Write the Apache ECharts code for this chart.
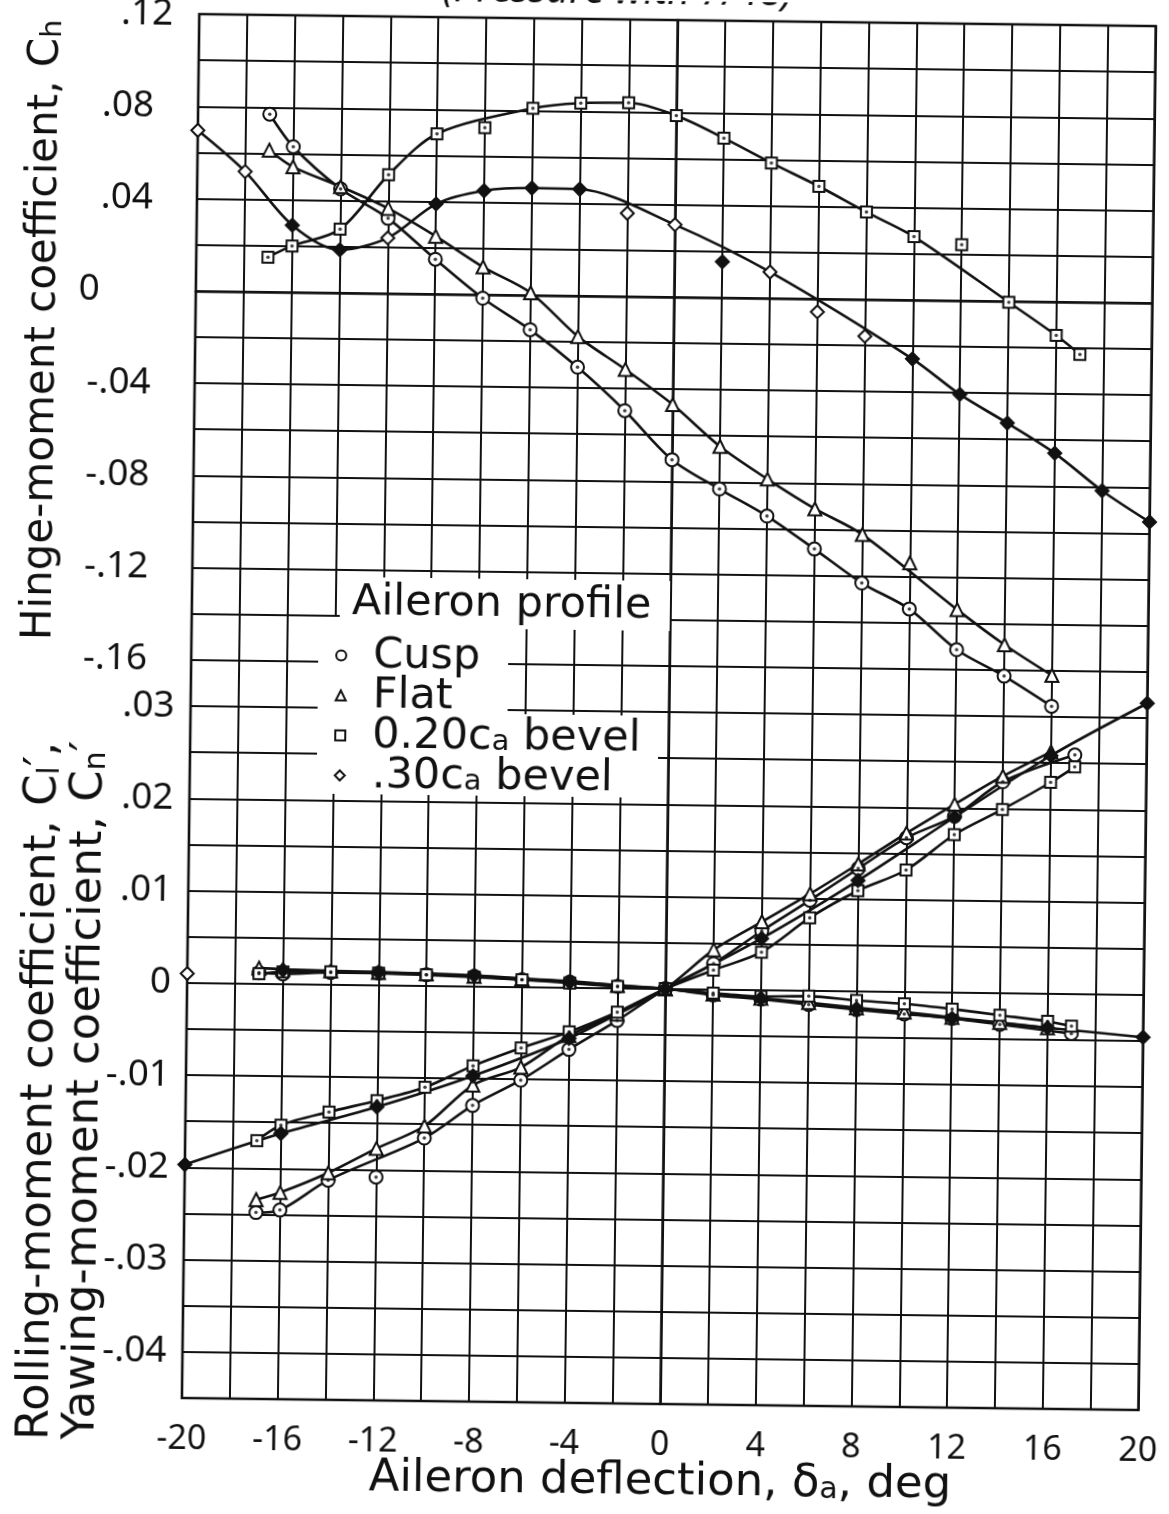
<!DOCTYPE html>
<html>
<head>
<meta charset="utf-8">
<script src="https://cdn.jsdelivr.net/npm/echarts@6/dist/echarts.min.js"></script>
<style>
  html, body { margin: 0; padding: 0; background: #fff; overflow: hidden; }
  #chart { width: 1169px; height: 1514px; transform: rotate(0.72deg); transform-origin: 50% 50%; }
</style>
</head>
<body>
<div id="chart"></div>
<script>
// ---- Aileron deflection (deg) and measured coefficients ----

// Hinge-moment coefficient, Ch
const cuspHingeX = [-17, -16, -14, -12, -10, -8, -6, -4, -2, 0, 2, 4, 6, 8, 10, 12, 14, 16];
const cuspHinge  = [0.077, 0.063, 0.045, 0.0325, 0.015, -0.0016, -0.015, -0.031, -0.0496, -0.0706, -0.083, -0.0945, -0.1085, -0.123, -0.134, -0.1514, -0.1626, -0.1754];

const flatHingeX = [-17, -16, -14, -12, -10, -8, -6, -4, -2, 0, 2, 4, 6, 8, 10, 12, 14, 16];
const flatHinge  = [0.0614, 0.0543, 0.046, 0.0368, 0.025, 0.0119, 0.001, -0.0177, -0.0317, -0.0467, -0.0646, -0.0785, -0.0911, -0.102, -0.114, -0.134, -0.149, -0.162];
const flatHingeOffCurve = [10];

const bevel20HingeX = [-17, -16, -14, -12, -10, -8, -6, -4, -2, 0, 2, 4, 6, 8, 10, 12, 14, 16, 17];
const bevel20Hinge  = [0.015, 0.020, 0.0275, 0.0514, 0.0694, 0.0723, 0.081, 0.0835, 0.0839, 0.0786, 0.0691, 0.0586, 0.0487, 0.0378, 0.0274, 0.0242, -0.0005, -0.0146, -0.0227];
const bevel20HingeOffCurve = [-8, 12];

const bevel30HingeX = [-20, -18, -16, -14, -12, -10, -8, -6, -4, -2, 0, 2, 4, 6, 8, 10, 12, 14, 16, 18, 20];
const bevel30Hinge  = [0.0696, 0.052, 0.029, 0.0186, 0.024, 0.039, 0.045, 0.0464, 0.0462, 0.036, 0.0313, 0.0155, 0.0113, -0.0057, -0.016, -0.0256, -0.0407, -0.0529, -0.0657, -0.0817, -0.095];
const bevel30HingeOffCurve = [-2, 2, 6, 8];
const bevel30HingeOpenX = [-20, -18, -12, -2, 0, 4, 6, 8];

// Rolling-moment coefficient, C'l
const cuspRollX = [-17, -16, -14, -12, -10, -8, -6, -4, -2, 0, 2, 4, 6, 8, 10, 12, 14, 17];
const cuspRoll  = [-0.0248, -0.0245, -0.0212, -0.0208, -0.0165, -0.0129, -0.0101, -0.0067, -0.0035, 0, 0.0028, 0.0064, 0.0098, 0.0133, 0.0167, 0.0191, 0.0229, 0.0259];
const cuspRollOffCurve = [-12];

const flatRollX = [-17, -16, -14, -12, -10, -8, -6, -4, -2, 0, 2, 4, 6, 8, 10, 12, 14, 16];
const flatRoll  = [-0.0234, -0.0226, -0.0204, -0.0177, -0.0152, -0.0107, -0.0087, -0.0052, -0.0028, 0, 0.0043, 0.0074, 0.0105, 0.0138, 0.0172, 0.0204, 0.0235, 0.0262];

const bevel20RollX = [-17, -16, -14, -12, -10, -8, -6, -4, -2, 0, 2, 4, 6, 8, 10, 12, 14, 16, 17];
const bevel20Roll  = [-0.017, -0.0153, -0.0138, -0.0125, -0.011, -0.0086, -0.0066, -0.0048, -0.0026, 0, 0.0021, 0.0041, 0.0079, 0.0109, 0.0132, 0.0171, 0.0199, 0.0229, 0.0246];

const bevel30RollX = [-20, -16, -12, -8, -4, 0, 4, 8, 12, 16, 20];
const bevel30Roll  = [-0.0197, -0.0162, -0.0132, -0.0097, -0.0055, 0, 0.0056, 0.012, 0.019, 0.0258, 0.0316];
const bevel30RollOpenX = [];

// Yawing-moment coefficient, C'n (same deflections as the rolling runs)
const cuspYaw    = [0.0012, 0.0011, 0.0013, 0.0013, 0.0012, 0.0011, 0.0008, 0.0006, 0.0002, 0, -0.0006, -0.001, -0.0015, -0.002, -0.0024, -0.0028, -0.0034, -0.0043];
const flatYaw    = [0.0017, 0.0016, 0.0015, 0.0014, 0.0013, 0.0011, 0.0009, 0.0007, 0.0003, 0, -0.0005, -0.0009, -0.0013, -0.0018, -0.0022, -0.0027, -0.0032, -0.0037];
const bevel20Yaw = [0.0011, 0.0013, 0.0014, 0.0013, 0.0012, 0.001, 0.0008, 0.0005, 0.0002, 0, -0.0004, -0.0007, -0.0006, -0.001, -0.0013, -0.0018, -0.0024, -0.003, -0.0035];
const bevel30YawX = [-20, -16, -12, -8, -4, 0, 4, 8, 12, 16, 20];
const bevel30Yaw  = [0.001, 0.0015, 0.0014, 0.0012, 0.0006, 0, -0.0009, -0.0019, -0.0028, -0.0037, -0.0046];
const bevel30YawOffCurve = [-20];
const bevel30YawOpenX = [-20];

// Axis tick labels
const deflectionTicks = [-20, -16, -12, -8, -4, 0, 4, 8, 12, 16, 20];
const hingeTicks = [0.12, 0.08, 0.04, 0, -0.04, -0.08, -0.12, -0.16];
const coefTicks  = [0.03, 0.02, 0.01, 0, -0.01, -0.02, -0.03, -0.04];

// Legend
const profileNames = ['Cusp', 'Flat', '0.20ca bevel', '.30ca bevel'];

// ---- drawing ----
const FONT = '"Noto Sans", "DejaVu Sans", sans-serif';
const LETTER = '"DejaVu Sans", "Noto Sans", sans-serif';
const INK = '#111';

function fmtCoef(v) {
  if (Math.abs(v) < 1e-9) return '0';
  return (v < 0 ? '-' : '') + Math.abs(v).toFixed(2).replace(/^0/, '');
}
function findTick(v, list) {
  for (const t of list) if (Math.abs(v - t) < 1e-7) return t;
  return null;
}
function pairs(xs, ys) { return xs.map((x, i) => [x, ys[i]]); }

const series = [];

function addCurve(xs, ys, axis, offCurve) {
  const off = offCurve || [];
  series.push({
    type: 'line', yAxisIndex: axis, silent: true, z: 3,
    data: pairs(xs, ys).filter(p => !off.includes(p[0])),
    smooth: 0.3, showSymbol: false,
    lineStyle: { color: INK, width: 2.6 }
  });
}
function addMarks(name, pts, axis, symbol, size, solid, dot) {
  series.push({
    type: 'scatter', name: name, yAxisIndex: axis, silent: true, z: 4,
    data: pts, symbol: symbol, symbolSize: size,
    itemStyle: { color: solid ? INK : '#fff', borderColor: INK, borderWidth: 2, opacity: 1 }
  });
  if (dot) {
    series.push({
      type: 'scatter', yAxisIndex: axis, silent: true, z: 5,
      data: pts, symbol: 'circle', symbolSize: 3.5,
      itemStyle: { color: INK }
    });
  }
}
function addProfile(label, xs, ys, axis, symbol, size, dot, offCurve, openX) {
  addCurve(xs, ys, axis, offCurve);
  const pts = pairs(xs, ys);
  if (openX) {
    const open = pts.filter(p => openX.includes(p[0]));
    const solid = pts.filter(p => !openX.includes(p[0]));
    addMarks(label, open, axis, symbol, size, false, false);
    addMarks(label ? label + ' (solid)' : '', solid, axis, symbol, size, true, false);
  } else {
    addMarks(label, pts, axis, symbol, size, false, dot);
  }
}

// Hinge moment (upper scale)
addProfile(profileNames[0], cuspHingeX, cuspHinge, 0, 'circle', 13, true);
addProfile(profileNames[1], flatHingeX, flatHinge, 0, 'triangle', 13, false, flatHingeOffCurve);
addProfile(profileNames[2], bevel20HingeX, bevel20Hinge, 0, 'rect', 11, true, bevel20HingeOffCurve);
addProfile(profileNames[3], bevel30HingeX, bevel30Hinge, 0, 'diamond', 13, false, bevel30HingeOffCurve, bevel30HingeOpenX);

// Rolling moment (lower scale)
addProfile('', cuspRollX, cuspRoll, 1, 'circle', 13, true, cuspRollOffCurve);
addProfile('', flatRollX, flatRoll, 1, 'triangle', 13, false);
addProfile('', bevel20RollX, bevel20Roll, 1, 'rect', 11, true);
addProfile('', bevel30RollX, bevel30Roll, 1, 'diamond', 13, false, null, bevel30RollOpenX);

// Yawing moment (lower scale)
addProfile('', cuspRollX, cuspYaw, 1, 'circle', 13, true);
addProfile('', flatRollX, flatYaw, 1, 'triangle', 13, false);
addProfile('', bevel20RollX, bevel20Yaw, 1, 'rect', 11, true);
addProfile('', bevel30YawX, bevel30Yaw, 1, 'diamond', 13, false, bevel30YawOffCurve, bevel30YawOpenX);

const gridLine = { show: true, lineStyle: { color: INK, width: 2 } };
const tickFont = { fontFamily: FONT, fontSize: 37, color: INK };
const subStyle = size => ({ fontFamily: LETTER, fontSize: size, fill: INK, color: INK, lineHeight: 12, verticalAlign: 'bottom' });

const option = {
  animation: false,
  backgroundColor: '#fff',
  grid: { left: 190, top: 19, width: 960, height: 1384, show: true, borderColor: INK, borderWidth: 2.6, backgroundColor: 'transparent' },
  xAxis: {
    type: 'value', min: -20, max: 20, interval: 2,
    axisLine: { show: true, lineStyle: { color: INK, width: 2.6 } },
    axisTick: { show: false },
    splitLine: gridLine,
    axisLabel: {
      margin: 24, color: INK, fontFamily: FONT, fontSize: 34,
      formatter: v => deflectionTicks.includes(v) ? String(v) : ''
    }
  },
  yAxis: [
    {
      type: 'value', min: -0.48, max: 0.12, interval: 0.02, position: 'left',
      axisLine: { show: true, lineStyle: { color: INK, width: 2.6 } },
      axisTick: { show: false },
      splitLine: gridLine,
      axisLabel: {
        margin: 26, color: INK, fontFamily: FONT, fontSize: 37,
        formatter: v => {
          const t = findTick(v, hingeTicks);
          if (t === null) return '';
          if (t === 0.12) return fmtCoef(t);
          if (t === 0) return '{z|0}';
          return '{p|' + fmtCoef(t) + '}';
        },
        rich: {
          p: Object.assign({ padding: [0, 18, 0, 0] }, tickFont),
          z: Object.assign({ padding: [0, 70, 0, 0] }, tickFont)
        }
      }
    },
    {
      type: 'value', min: -0.045, max: 0.105, interval: 0.005, position: 'left', offset: 0,
      axisLine: { show: false }, axisTick: { show: false }, splitLine: { show: false },
      axisLabel: {
        margin: 16, color: INK, fontFamily: FONT, fontSize: 37,
        formatter: v => { const t = findTick(v, coefTicks); return t === null ? '' : fmtCoef(t); }
      }
    }
  ],
  legend: {
    left: 329, top: 632, orient: 'vertical', itemGap: -3, itemWidth: 10, itemHeight: 10,
    selectedMode: false, z: 6,
    data: [
      { name: profileNames[0], icon: 'circle' },
      { name: profileNames[1], icon: 'triangle' },
      { name: profileNames[2], icon: 'rect' },
      { name: profileNames[3], icon: 'diamond' }
    ],
    formatter: n => '{g|}' + n.replace('ca', 'c{s|a}'),
    textStyle: {
      color: INK, fontFamily: LETTER, fontSize: 43, lineHeight: 38,
      rich: {
        g: { width: 22, lineHeight: 38 },
        s: subStyle(29)
      }
    }
  },
  graphic: [
    // knock-out behind the legend block
    { type: 'rect', z: 1, shape: { x: 338, y: 580, width: 330, height: 50 }, style: { fill: '#fff' } },
    { type: 'rect', z: 1, shape: { x: 317, y: 620, width: 190, height: 177 }, style: { fill: '#fff' } },
    { type: 'rect', z: 1, shape: { x: 317, y: 715, width: 341, height: 82 }, style: { fill: '#fff' } },
    { type: 'text', z: 6, x: 350, y: 606, style: { text: 'Aileron profile', fontFamily: LETTER, fontSize: 43, fill: INK, align: 'left', verticalAlign: 'middle' } },
    // axis titles
    { type: 'text', z: 6, x: 38, y: 647, rotation: Math.PI / 2,
      style: { text: 'Hinge-moment coefficient, C{s|h}', fontFamily: LETTER, fontSize: 42, fill: INK, align: 'left', verticalAlign: 'middle', lineHeight: 42,
        rich: { s: subStyle(29) } } },
    { type: 'text', z: 6, x: 44, y: 1447, rotation: Math.PI / 2,
      style: { text: "Rolling-moment coefficient, C{s|l}\u2032,", fontFamily: LETTER, fontSize: 45, fill: INK, align: 'left', verticalAlign: 'middle', lineHeight: 44,
        rich: { s: subStyle(30) } } },
    { type: 'text', z: 6, x: 90, y: 1446, rotation: Math.PI / 2,
      style: { text: "Yawing-moment coefficient, C{s|n}\u2032", fontFamily: LETTER, fontSize: 45, fill: INK, align: 'left', verticalAlign: 'middle', lineHeight: 44,
        rich: { s: subStyle(30) } } },
    { type: 'text', z: 6, x: 669, y: 1481,
      style: { text: 'Aileron deflection, \u03b4{s|a}, deg', fontFamily: LETTER, fontSize: 45, fill: INK, align: 'center', verticalAlign: 'middle', lineHeight: 42,
        rich: { s: subStyle(30) } } },
    { type: 'text', z: 6, x: 608, y: 12,
      style: { text: '(Pressure with 7/48)', fontFamily: FONT, fontStyle: 'italic', fontSize: 40, fill: INK, align: 'center', verticalAlign: 'bottom' } }
  ],
  series: series
};

const chart = echarts.init(document.getElementById('chart'), null, { renderer: 'canvas' });
chart.setOption(option);
</script>
</body>
</html>
